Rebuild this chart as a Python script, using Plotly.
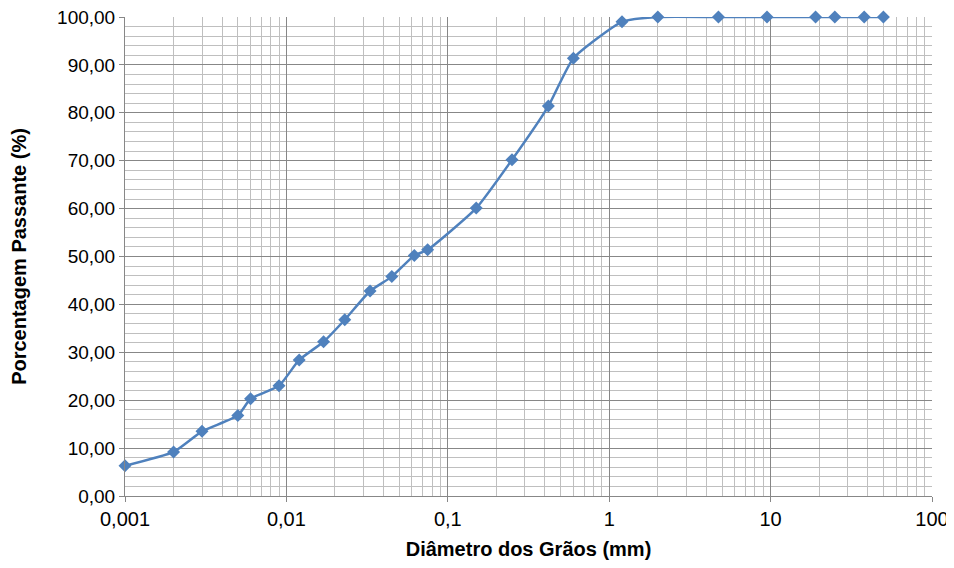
import plotly.graph_objects as go

diametro_mm = [0.001, 0.002, 0.003, 0.005, 0.006, 0.009, 0.012, 0.017, 0.023, 0.033,
               0.045, 0.062, 0.075, 0.15, 0.25, 0.42, 0.6, 1.2, 2.0, 4.75, 9.5,
               19.0, 25.0, 38.0, 50.0]
passante_pct = [6.3, 9.2, 13.5, 16.8, 20.3, 23.0, 28.4, 32.2, 36.8, 42.8,
                45.8, 50.2, 51.4, 60.1, 70.2, 81.4, 91.4, 99.0, 100.0, 100.0, 100.0,
                100.0, 100.0, 100.0, 100.0]

x_tickvals = [0.001, 0.01, 0.1, 1, 10, 100]
x_ticktext = ["0,001", "0,01", "0,1", "1", "10", "100"]
y_tickvals = [0, 10, 20, 30, 40, 50, 60, 70, 80, 90, 100]

blue = "#4F81BD"

fig = go.Figure()
fig.add_trace(go.Scatter(
    x=diametro_mm, y=passante_pct, mode="lines+markers",
    line=dict(color=blue, width=2.5, shape="spline", smoothing=0.5),
    marker=dict(symbol="diamond", size=10, color=blue),
    showlegend=False, cliponaxis=False,
))

font_family = "Liberation Sans, Arial, sans-serif"
fig.update_layout(
    width=946, height=560,
    margin=dict(l=117, r=22, t=9, b=72, autoexpand=False),
    paper_bgcolor="white", plot_bgcolor="white",
    separators=",.",
    font=dict(family=font_family, size=20, color="#000000"),
    xaxis=dict(
        type="log", range=[-3, 2],
        tickvals=x_tickvals, ticktext=x_ticktext,
        ticklabeloverflow="allow",
        showgrid=True, gridcolor="#878787", gridwidth=1,
        minor=dict(dtick="D1", showgrid=True, gridcolor="#BFBFBF", gridwidth=1, ticks=""),
        ticks="outside", ticklen=5, tickcolor="#878787",
        showline=True, linecolor="#878787", zeroline=False,
        title=dict(text="<b>Diâmetro dos Grãos (mm)</b>", font=dict(size=20), standoff=12),
        tickfont=dict(size=20),
    ),
    yaxis=dict(
        range=[0, 100], tickvals=y_tickvals, tickformat=".2f",
        ticklabeloverflow="allow",
        showgrid=True, gridcolor="#878787", gridwidth=1,
        minor=dict(dtick=2, showgrid=True, gridcolor="#BFBFBF", gridwidth=1, ticks=""),
        ticks="outside", ticklen=5, tickcolor="#878787",
        showline=True, linecolor="#878787", zeroline=False,
        title=dict(text="<b>Porcentagem Passante (%)</b>", font=dict(size=20), standoff=32),
        tickfont=dict(size=19),
    ),
)

fig.write_html("out.html")
